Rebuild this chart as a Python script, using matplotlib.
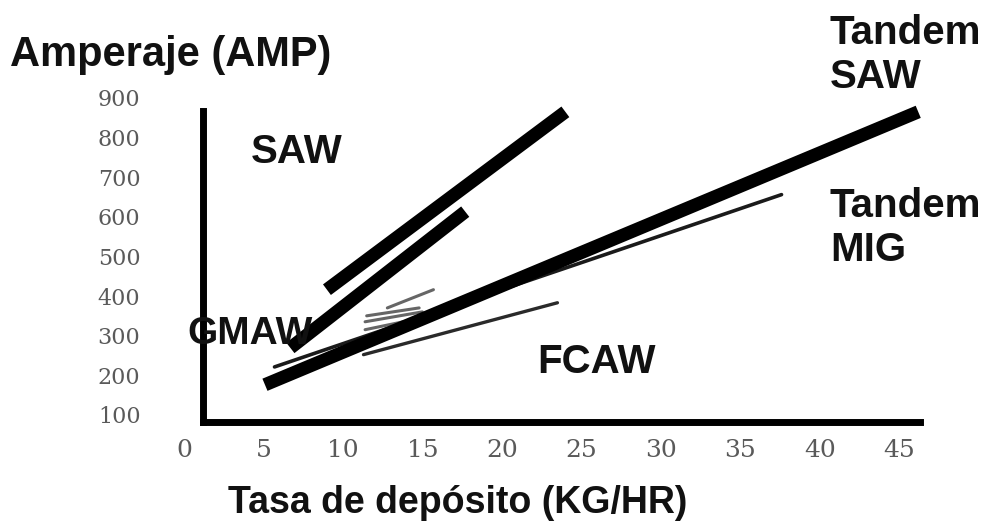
import matplotlib.pyplot as plt

# tick values
x_ticks = [0, 5, 10, 15, 20, 25, 30, 35, 40, 45]
y_ticks = [100, 200, 300, 400, 500, 600, 700, 800, 900]

# thick lines: deposit rate (kg/hr) vs amperage, start and end points
saw_x = [9.0, 24.0]
saw_y = [416, 865]
gmaw_x = [6.7, 17.7]
gmaw_y = [269, 613]
tandem_saw_x = [5.1, 46.2]
tandem_saw_y = [176, 865]

# thin lines
tandem_mig_x = [5.7, 37.6]
tandem_mig_y = [221, 656]
fcaw_x = [11.3, 23.5]
fcaw_y = [252, 383]
# grey scribble of short FCAW strokes
fcaw_grey_x = [[11.4, 15.0], [11.4, 15.0], [11.5, 14.8], [12.8, 15.7]]
fcaw_grey_y = [[315, 345], [335, 360], [350, 370], [370, 416]]

W, H = 994, 529
fig = plt.figure(figsize=(W / 100, H / 100), dpi=100)

# axes box in pixels: x -1..46.5 -> 168..923, y 82..910 -> 422..94
ax = fig.add_axes([168 / W, (H - 422) / H, (923 - 168) / W, (422 - 94) / H])
ax.set_xlim(-1, 46.5)
ax.set_ylim(82, 910)

for s in ['top', 'right']:
    ax.spines[s].set_visible(False)
ax.spines['left'].set_position(('data', 1.2))
ax.spines['left'].set_bounds(82, 868)
ax.spines['bottom'].set_bounds(1.2, 46.3)
for s in ['left', 'bottom']:
    ax.spines[s].set_linewidth(5)
    ax.spines[s].set_color('black')
    ax.spines[s].set_capstyle('projecting')

ax.set_xticks(x_ticks)
ax.set_xticklabels([str(v) for v in x_ticks], family='DejaVu Serif', fontsize=18, color='#5a5a5a')
ax.set_yticks(y_ticks)
ax.set_yticklabels([str(v) for v in y_ticks], family='DejaVu Serif', fontsize=16, color='#5a5a5a')
ax.tick_params(axis='x', length=0, pad=12)
ax.tick_params(axis='y', length=0, pad=45)

# thin lines under the thick ones
ax.plot(tandem_mig_x, tandem_mig_y, color='#1a1a1a', lw=2.6, solid_capstyle='round', clip_on=False)
ax.plot(fcaw_x, fcaw_y, color='#2a2a2a', lw=2.4, solid_capstyle='round', clip_on=False)
for gx, gy in zip(fcaw_grey_x, fcaw_grey_y):
    ax.plot(gx, gy, color='#666666', lw=2.2, solid_capstyle='round', clip_on=False)

for lx, ly in [(saw_x, saw_y), (gmaw_x, gmaw_y), (tandem_saw_x, tandem_saw_y)]:
    ax.plot(lx, ly, color='black', lw=9.5, solid_capstyle='butt', clip_on=False)

lab = dict(family='Liberation Sans', fontweight='bold', color='#111111')
fig.text(10 / W, 1 - 55 / H, 'Amperaje (AMP)', fontsize=30, va='center', ha='left', **lab)
fig.text(228 / W, 1 - 503 / H, 'Tasa de depósito (KG/HR)', fontsize=27, va='center', ha='left', **lab)
fig.text(830 / W, 1 - 14 / H, 'Tandem\nSAW', fontsize=29, va='top', ha='left', linespacing=1.2, **lab)
fig.text(830 / W, 1 - 187 / H, 'Tandem\nMIG', fontsize=29, va='top', ha='left', linespacing=1.2, **lab)
fig.text(297 / W, 1 - 152 / H, 'SAW', fontsize=29, va='center', ha='center', **lab)
fig.text(250 / W, 1 - 334 / H, 'GMAW', fontsize=28, va='center', ha='center', **lab)
fig.text(596 / W, 1 - 362 / H, 'FCAW', fontsize=29, va='center', ha='center', **lab)

fig.savefig('out.png', dpi=100)
